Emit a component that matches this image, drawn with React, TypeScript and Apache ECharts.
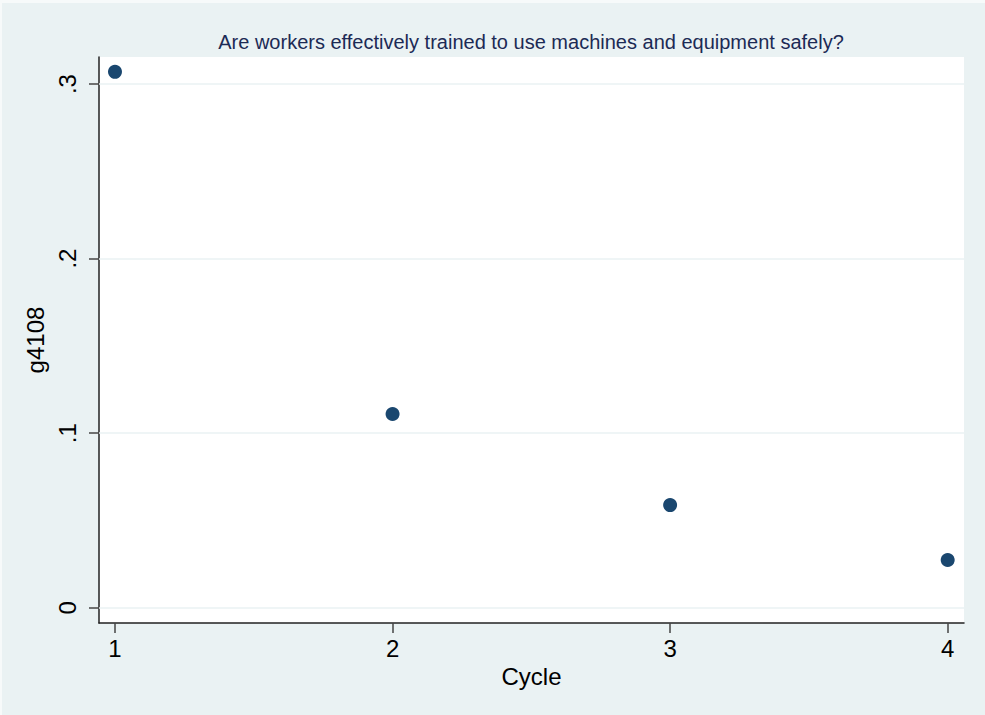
import React, { useEffect, useRef } from "react";
import * as echarts from "echarts";

// Survey cycle and the share answering g4108
const cycles = [1, 2, 3, 4];
const g4108 = [0.307, 0.111, 0.0588, 0.0273];

// Axis ticks and their labels
const xTicks = [1, 2, 3, 4];
const yTicks = [0, 0.1, 0.2, 0.3];
const yTickLabels = ["0", ".1", ".2", ".3"];

const titleText = "Are workers effectively trained to use machines and equipment safely?";
const xTitle = "Cycle";
const yTitle = "g4108";

const FONT = "'Liberation Sans', Arial, Helvetica, sans-serif";
const NAVY = "#1a476f";
const BG = "#eaf2f3";

export default function App() {
  const ref = useRef<HTMLDivElement>(null);

  useEffect(() => {
    if (!ref.current) return;
    const chart = echarts.init(ref.current, undefined, { renderer: "svg" });

    chart.setOption({
      animation: false,
      backgroundColor: BG,
      textStyle: { fontFamily: FONT },
      graphic: [
        { type: "rect", left: 0, top: 0, shape: { width: 985, height: 3 }, style: { fill: "#f7fafa" }, silent: true },
        { type: "rect", left: 0, top: 0, shape: { width: 2, height: 715 }, style: { fill: "#f7fafa" }, silent: true },
        {
          type: "text",
          x: 531,
          y: 42,
          style: {
            text: titleText,
            fill: "#1c2a55",
            font: `20px ${FONT}`,
            textAlign: "center",
            textVerticalAlign: "middle",
          },
          silent: true,
        },
      ],
      grid: {
        left: 99,
        top: 57,
        right: 21,
        bottom: 92,
        show: true,
        backgroundColor: "#ffffff",
        borderWidth: 0,
        containLabel: false,
      },
      xAxis: {
        type: "value",
        min: 0.9424,
        max: 4.0588,
        name: xTitle,
        nameLocation: "middle",
        nameGap: 40,
        nameTextStyle: { fontSize: 24, color: "#000", fontFamily: FONT },
        axisLine: { show: true, onZero: false, lineStyle: { color: "#222", width: 1.5 } },
        axisTick: { show: true, length: 10, customValues: xTicks, lineStyle: { color: "#444", width: 1.5 } },
        axisLabel: {
          customValues: xTicks,
          margin: 13,
          fontSize: 24,
          color: "#000",
          fontFamily: FONT,
          formatter: (v: number) => String(v),
        },
        splitLine: { show: false },
      },
      yAxis: {
        type: "value",
        min: -0.00876,
        max: 0.3155,
        name: yTitle,
        nameLocation: "middle",
        nameRotate: 90,
        nameGap: 42,
        nameTextStyle: { fontSize: 24, color: "#000", fontFamily: FONT },
        axisLine: { show: true, onZero: false, lineStyle: { color: "#222", width: 1.5 } },
        axisTick: { show: true, length: 10, customValues: yTicks, lineStyle: { color: "#444", width: 1.5 } },
        axisLabel: {
          customValues: yTicks,
          rotate: 90,
          margin: 20,
          fontSize: 24,
          color: "#000",
          fontFamily: FONT,
          formatter: (v: number) => {
            const i = yTicks.findIndex((t) => Math.abs(t - v) < 1e-9);
            return i >= 0 ? yTickLabels[i] : "";
          },
        },
        splitLine: { show: false },
      },
      series: [
        {
          type: "scatter",
          data: cycles.map((c, i) => [c, g4108[i]]),
          symbol: "circle",
          symbolSize: 14,
          itemStyle: { color: NAVY, opacity: 1 },
          markLine: {
            silent: true,
            symbol: "none",
            label: { show: false },
            lineStyle: { color: BG, width: 1.5, type: "solid" },
            data: yTicks.map((t) => ({ yAxis: t })),
          },
          z: 3,
        },
      ],
    });

    return () => chart.dispose();
  }, []);

  return (
    <div
      ref={ref}
      style={{ position: "fixed", left: 0, top: 0, width: 985, height: 715 }}
    />
  );
}
